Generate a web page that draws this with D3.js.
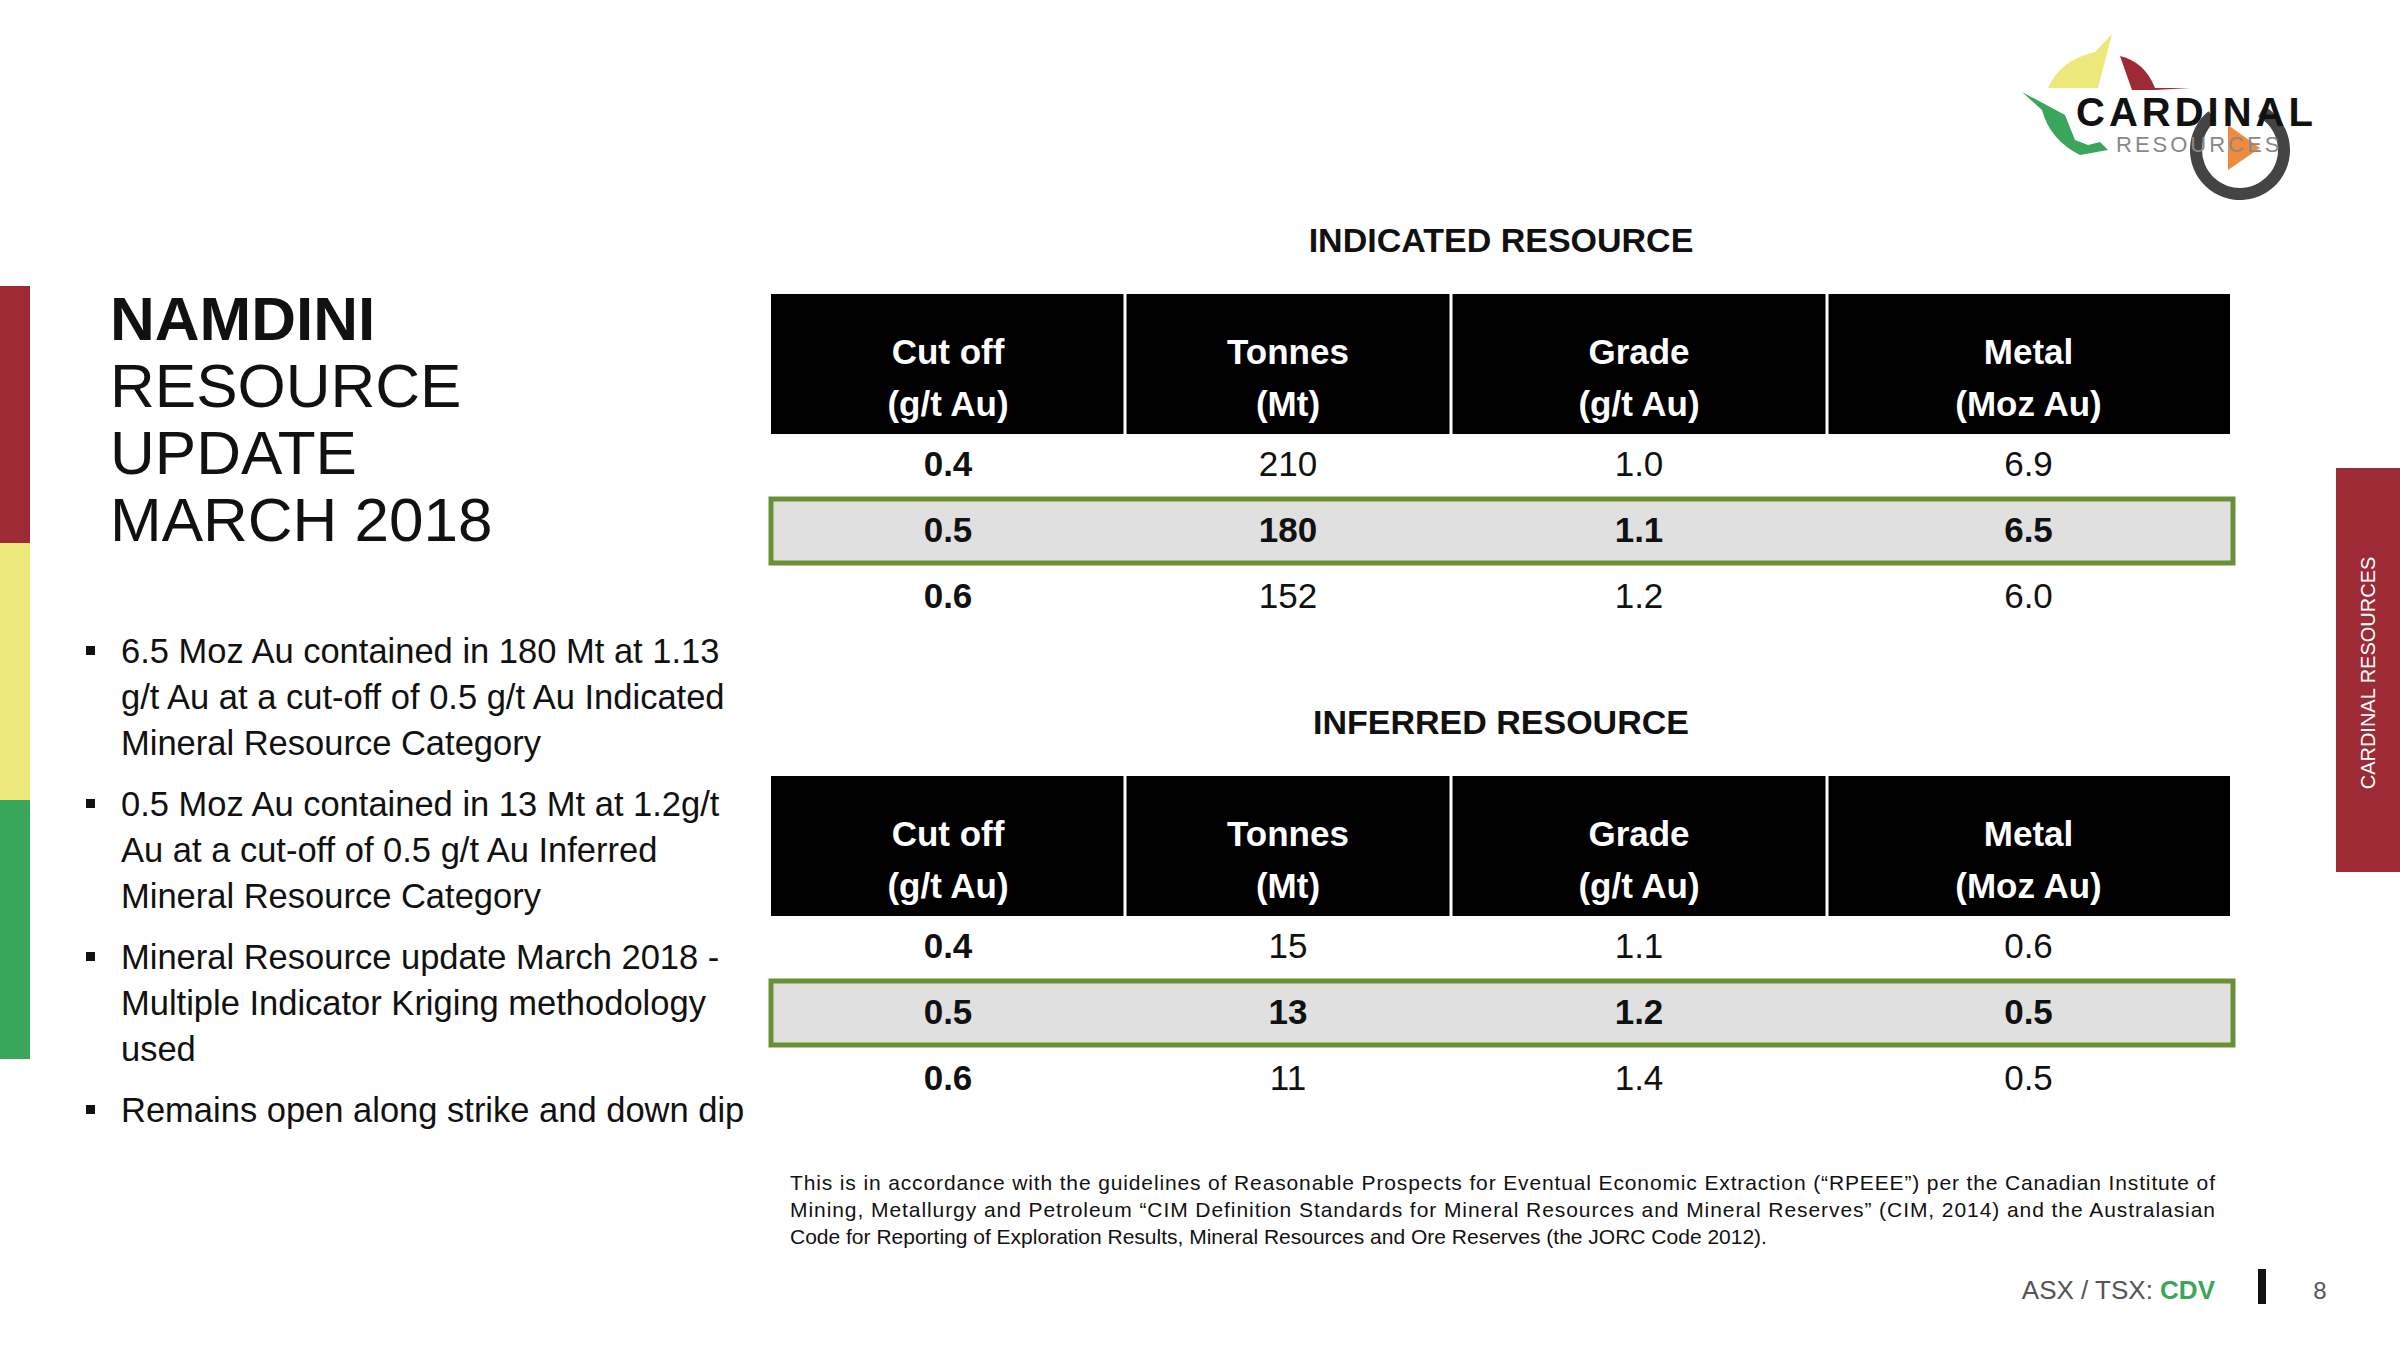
<!DOCTYPE html>
<html><head><meta charset="utf-8">
<script src="https://cdn.jsdelivr.net/npm/d3@7"></script>
<style>body{margin:0;background:#fff}svg{display:block;font-family:"Liberation Sans",Arial,sans-serif}</style>
</head><body><svg id="c" width="2400" height="1350"></svg>
<script>
const headers = [["Cut off", "(g/t Au)"], ["Tonnes", "(Mt)"], ["Grade", "(g/t Au)"], ["Metal", "(Moz Au)"]];
const cutoffs = ["0.4", "0.5", "0.6"];
const indicatedTonnes = ["210", "180", "152"];
const indicatedGrade = ["1.0", "1.1", "1.2"];
const indicatedMetal = ["6.9", "6.5", "6.0"];
const inferredTonnes = ["15", "13", "11"];
const inferredGrade = ["1.1", "1.2", "1.4"];
const inferredMetal = ["0.6", "0.5", "0.5"];
const highlightRow = "0.5";
const titleLines = ["NAMDINI", "RESOURCE", "UPDATE", "MARCH 2018"];
const bullets = [
  ["6.5 Moz Au contained in 180 Mt at 1.13", "g/t Au at a cut-off of 0.5 g/t Au Indicated", "Mineral Resource Category"],
  ["0.5 Moz Au contained in 13 Mt at 1.2g/t", "Au at a cut-off of 0.5 g/t Au Inferred", "Mineral Resource Category"],
  ["Mineral Resource update March 2018 -", "Multiple Indicator Kriging methodology", "used"],
  ["Remains open along strike and down dip"]
];
const footnote = [
  "This is in accordance with the guidelines of Reasonable Prospects for Eventual Economic Extraction (\u201cRPEEE\u201d) per the Canadian Institute of",
  "Mining, Metallurgy and Petroleum \u201cCIM Definition Standards for Mineral Resources and Mineral Reserves\u201d (CIM, 2014) and the Australasian",
  "Code for Reporting of Exploration Results, Mineral Resources and Ore Reserves (the JORC Code 2012)."
];

const svg = d3.select("#c");
const red = "#9e2a36", yellow = "#ece97a", green = "#3aa65c";

// left colour strip
[[red, 286, 543], [yellow, 543, 800], [green, 800, 1059]].forEach(([c, y0, y1]) =>
  svg.append("rect").attr("x", 0).attr("y", y0).attr("width", 30).attr("height", y1 - y0).attr("fill", c));

// right tab
svg.append("rect").attr("x", 2336).attr("y", 468).attr("width", 64).attr("height", 404).attr("fill", red);
svg.append("text").attr("transform", "translate(2375,673) rotate(-90)").attr("text-anchor", "middle")
  .attr("fill", "#fff").attr("font-size", 20).text("CARDINAL RESOURCES");

// title
svg.append("g").selectAll("text").data(titleLines).join("text")
  .attr("x", 110).attr("y", (d, i) => 340 + i * 67).attr("font-size", 62)
  .attr("font-weight", (d, i) => i === 0 ? "bold" : "normal").attr("fill", "#111").text(d => d);

// bullets
let by = 663;
bullets.forEach(b => {
  svg.append("rect").attr("x", 86).attr("y", by - 17).attr("width", 9).attr("height", 9).attr("fill", "#111");
  b.forEach((line, i) => svg.append("text").attr("x", 121).attr("y", by + i * 46)
    .attr("font-size", 34.5).attr("fill", "#111").text(line));
  by += b.length * 46 + 15;
});

// tables
const colEdges = [771, 1125, 1451, 1827, 2230];
const x = d3.scaleOrdinal().domain(d3.range(4)).range(d3.range(4).map(i => (colEdges[i] + colEdges[i + 1]) / 2));

function table(title, top, cols) {
  svg.append("text").attr("x", 1501).attr("y", top - 42).attr("text-anchor", "middle")
    .attr("font-size", 34).attr("font-weight", "bold").attr("fill", "#111").text(title);
  const hh = 140;
  headers.forEach((h, i) => {
    svg.append("rect").attr("x", colEdges[i] + (i ? 1.5 : 0)).attr("y", top)
      .attr("width", colEdges[i + 1] - colEdges[i] - (i ? 1.5 : 0) - (i < 3 ? 1.5 : 0)).attr("height", hh).attr("fill", "#000");
    h.forEach((t, j) => svg.append("text").attr("x", x(i)).attr("y", top + 70 + j * 52)
      .attr("text-anchor", "middle").attr("font-size", 35).attr("font-weight", "bold").attr("fill", "#fff").text(t));
  });
  const y = d3.scaleBand().domain(cutoffs).range([top + hh - 4, top + hh + 194]);
  const hl = y(highlightRow);
  svg.append("rect").attr("x", 771).attr("y", hl + 3).attr("width", 1462).attr("height", y.bandwidth() - 2)
    .attr("fill", "#e0e0e0").attr("stroke", "#6a8f34").attr("stroke-width", 5);
  cutoffs.forEach((c, r) => {
    cols.forEach((vals, i) => svg.append("text").attr("x", x(i)).attr("y", y(c) + y.bandwidth() / 2 + 13)
      .attr("text-anchor", "middle").attr("font-size", 35).attr("fill", "#111")
      .attr("font-weight", (i === 0 || c === highlightRow) ? "bold" : "normal").text(vals[r]));
  });
}
table("INDICATED RESOURCE", 294, [cutoffs, indicatedTonnes, indicatedGrade, indicatedMetal]);
table("INFERRED RESOURCE", 776, [cutoffs, inferredTonnes, inferredGrade, inferredMetal]);

// footnote
footnote.forEach((t, i) => {
  const tx = svg.append("text").attr("x", 790).attr("y", 1190 + i * 27).attr("font-size", 21).attr("fill", "#111").text(t);
  if (i < footnote.length - 1) tx.attr("textLength", 1425).attr("lengthAdjust", "spacing");
});

// footer
const ft = svg.append("text").attr("x", 2215).attr("y", 1299).attr("text-anchor", "end").attr("font-size", 26).attr("fill", "#555");
ft.append("tspan").text("ASX / TSX: ");
ft.append("tspan").attr("fill", green).attr("font-weight", "bold").text("CDV");
svg.append("rect").attr("x", 2258).attr("y", 1269).attr("width", 8).attr("height", 35).attr("fill", "#111");
svg.append("text").attr("x", 2320).attr("y", 1299).attr("text-anchor", "middle").attr("font-size", 24).attr("fill", "#555").text("8");

// logo
const lg = svg.append("g").attr("transform", "translate(2020,30)");
lg.append("path").attr("d", "M28,58 Q40,30 75,22 L92,4 L78,58 Z").attr("fill", yellow);
lg.append("path").attr("d", "M100,26 Q125,32 135,58 L170,58 L135,60 L112,60 Z").attr("fill", red);
lg.append("path").attr("d", "M2,62 L45,85 L55,110 L68,115 L80,112 L88,120 L60,125 Q30,110 22,80 Z").attr("fill", green);
lg.append("path").attr("d", d3.arc()({innerRadius: 38, outerRadius: 50, startAngle: 0.5, endAngle: 5.6}))
  .attr("transform", "translate(220,120)").attr("fill", "#444");
lg.append("path").attr("d", "M208,95 L208,140 L240,118 Z").attr("fill", "#f08a3c");
lg.append("text").attr("x", 56).attr("y", 96).attr("font-size", 40).attr("font-weight", "bold")
  .attr("letter-spacing", 4).attr("fill", "#111").text("CARDINAL");
lg.append("text").attr("x", 96).attr("y", 122).attr("font-size", 22).attr("letter-spacing", 3).attr("fill", "#888").text("RESOURCES");
</script></body></html>
